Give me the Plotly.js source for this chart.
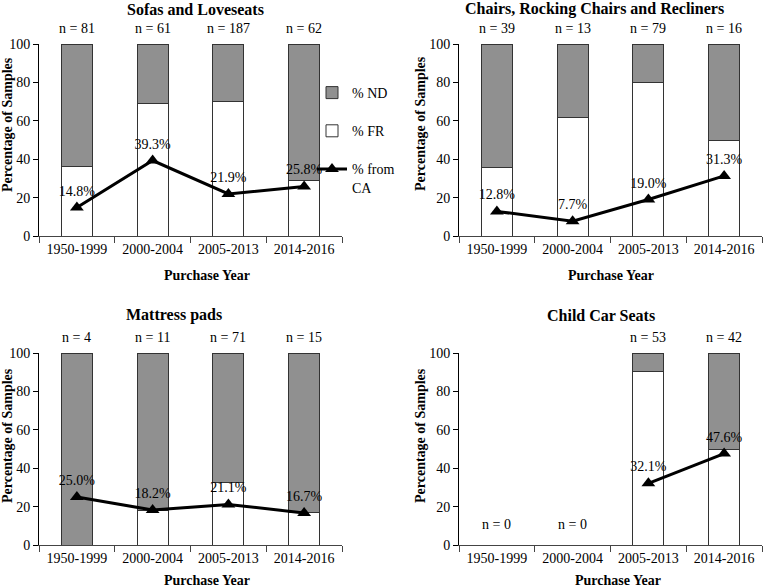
<!DOCTYPE html>
<html>
<head>
<meta charset="utf-8">
<script src="https://cdn.plot.ly/plotly-3.0.1.min.js"></script>
<style>html,body{margin:0;padding:0;background:#fff;}#chart{width:763px;height:587px;}</style>
</head>
<body>
<div id="chart"></div>
<script>
const categories = ['1950-1999', '2000-2004', '2005-2013', '2014-2016'];

const panelTitles = ['Sofas and Loveseats', 'Chairs, Rocking Chairs and Recliners', 'Mattress pads', 'Child Car Seats'];

const sofaFR = [36, 69, 70, 29];
const sofaCA = [14.8, 39.3, 21.9, 25.8];
const sofaN = [81, 61, 187, 62];

const chairFR = [35.9, 61.5, 79.7, 50];
const chairCA = [12.8, 7.7, 19.0, 31.3];
const chairN = [39, 13, 79, 16];

const padFR = [0, 18.2, 32.4, 16.7];
const padCA = [25.0, 18.2, 21.1, 16.7];
const padN = [4, 11, 71, 15];

const seatFR = [null, null, 90.6, 50];
const seatCA = [null, null, 32.1, 47.6];
const seatN = [0, 0, 53, 42];

const FONT = '"Liberation Serif", "Times New Roman", Times, serif';
const W = 763, H = 587;
const px = v => v / W;
const py = v => 1 - v / H;

const panels = [
  {fr: sofaFR, ca: sofaCA, n: sofaN, xa: 'x', ya: 'y', xd: [39, 342], yd: [44, 236], title: [195, 9], xt: [207, 275], yt: [7, 125]},
  {fr: chairFR, ca: chairCA, n: chairN, xa: 'x2', ya: 'y2', xd: [459, 762], yd: [44, 236], title: [594, 9], xt: [611, 275], yt: [421, 124]},
  {fr: padFR, ca: padCA, n: padN, xa: 'x3', ya: 'y3', xd: [39, 342], yd: [353, 545], title: [174, 315], xt: [207, 580], yt: [7, 436]},
  {fr: seatFR, ca: seatCA, n: seatN, xa: 'x4', ya: 'y4', xd: [459, 762], yd: [353, 545], title: [601, 315], xt: [618, 580], yt: [420, 436]}
];

const traces = [];
const annotations = [];
const layout = {
  width: W, height: H,
  margin: {l: 0, r: 0, t: 0, b: 0},
  paper_bgcolor: '#ffffff', plot_bgcolor: 'rgba(0,0,0,0)',
  barmode: 'stack',
  font: {family: FONT, size: 13, color: '#000'},
  showlegend: true,
  legend: {
    x: px(312), y: py(77), xanchor: 'left', yanchor: 'top',
    bgcolor: 'rgba(0,0,0,0)', font: {family: FONT, size: 14, color: '#000'},
    tracegroupgap: 17, valign: 'top', itemwidth: 30
  },
  annotations: annotations
};

panels.forEach((p, i) => {
  const nd = p.fr.map((v, k) => (p.n[k] > 0 && v !== null) ? 100 - v : null);
  const first = i === 0;
  traces.push({
    type: 'bar', x: categories, y: p.fr, xaxis: p.xa, yaxis: p.ya, name: '% FR',
    width: 0.41, marker: {color: '#ffffff', line: {color: '#333333', width: 1}},
    showlegend: first, legendgroup: 'fr', legendrank: 2, hoverinfo: 'y'
  });
  traces.push({
    type: 'bar', x: categories, y: nd, xaxis: p.xa, yaxis: p.ya, name: '% ND',
    width: 0.41, marker: {color: '#909090', line: {color: '#333333', width: 1}},
    showlegend: first, legendgroup: 'nd', legendrank: 1, hoverinfo: 'y'
  });
  traces.push({
    type: 'scatter', mode: 'lines+markers+text', x: categories, y: p.ca, xaxis: p.xa, yaxis: p.ya,
    name: '% from<br>CA', connectgaps: false,
    line: {color: '#000', width: 3},
    marker: {symbol: 'triangle-up', size: 12, color: '#000'},
    text: p.ca.map(v => v === null ? '' : v.toFixed(1) + '%'),
    textposition: 'top center', textfont: {family: FONT, size: 14, color: '#000'},
    showlegend: first, legendgroup: 'ca', legendrank: 3, hoverinfo: 'y'
  });

  const xk = p.xa === 'x' ? 'xaxis' : 'xaxis' + p.xa.slice(1);
  const yk = p.ya === 'y' ? 'yaxis' : 'yaxis' + p.ya.slice(1);
  layout[xk] = {
    domain: [px(p.xd[0]), px(p.xd[1])], anchor: p.ya, type: 'category',
    categoryorder: 'array', categoryarray: categories, range: [-0.5, 3.5],
    showline: true, linecolor: '#444', linewidth: 1,
    ticks: 'outside', tickson: 'boundaries', ticklen: 6, tickcolor: '#444',
    showgrid: false, zeroline: false, fixedrange: true,
    tickfont: {family: FONT, size: 14, color: '#000'}
  };
  layout[yk] = {
    domain: [py(p.yd[1]), py(p.yd[0])], anchor: p.xa, range: [0, 100], dtick: 20,
    showline: true, linecolor: '#000', linewidth: 1,
    ticks: 'outside', ticklen: 5, tickcolor: '#000',
    showgrid: false, zeroline: false, fixedrange: true,
    tickfont: {family: FONT, size: 14, color: '#000'}
  };

  annotations.push({xref: 'paper', yref: 'paper', x: px(p.title[0]), y: py(p.title[1]),
    xanchor: 'center', yanchor: 'middle', showarrow: false,
    text: '<b>' + panelTitles[i] + '</b>', font: {family: FONT, size: 16, color: '#000'}});
  annotations.push({xref: 'paper', yref: 'paper', x: px(p.xt[0]), y: py(p.xt[1]),
    xanchor: 'center', yanchor: 'middle', showarrow: false,
    text: '<b>Purchase Year</b>', font: {family: FONT, size: 14, color: '#000'}});
  annotations.push({xref: 'paper', yref: 'paper', x: px(p.yt[0]), y: py(p.yt[1]),
    xanchor: 'center', yanchor: 'middle', showarrow: false, textangle: -90,
    text: '<b>Percentage of Samples</b>', font: {family: FONT, size: 14, color: '#000'}});
  p.n.forEach((n, k) => {
    if (n > 0) {
      annotations.push({xref: p.xa, yref: p.ya, x: categories[k], y: 100, yanchor: 'bottom',
        yshift: 6, showarrow: false, text: 'n = ' + n, font: {family: FONT, size: 14, color: '#000'}});
    } else {
      annotations.push({xref: p.xa, yref: p.ya, x: categories[k], y: 10.5, yanchor: 'middle',
        showarrow: false, text: 'n = ' + n, font: {family: FONT, size: 14, color: '#000'}});
    }
  });
});

Plotly.newPlot('chart', traces, layout, {displayModeBar: false, staticPlot: true});
</script>
</body>
</html>
